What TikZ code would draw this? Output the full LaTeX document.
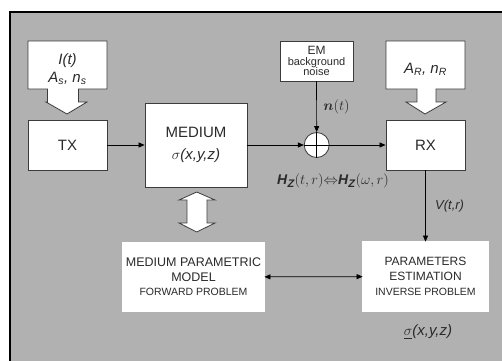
\documentclass[tikz,border=0pt]{standalone}
\usepackage{fontspec}
\setmainfont{Liberation Sans}
\usepackage{amsmath, amssymb}
\usetikzlibrary{arrows.meta}
\definecolor{PanelGray}{HTML}{B1B1B1}
\definecolor{EdgeGray}{HTML}{3C3C3C}
\definecolor{InkGray}{HTML}{2A2A2A}
\newcommand{\fs}[1]{\fontsize{#1}{#1}\selectfont}
\newcommand{\fsl}[2]{\fontsize{#1}{#2}\selectfont}
\newcommand{\HZ}{\textbf{\textit{H}}\raisebox{-0.35ex}{\fs{11}\textbf{\textit{Z}}}}

\begin{document}
\begin{tikzpicture}[x=1pt, y=-1pt, font=\fs{15}, text=InkGray,
    blk/.style={draw=EdgeGray, fill=white, line width=0.8pt, align=center, inner sep=0pt},
    dbl/.style={blk, double=white, double distance=1.2pt},
    arr/.style={-{Triangle[length=6pt, width=5pt]}, line width=0.7pt},
    arrboth/.style={{Triangle[length=6pt, width=5pt]}-{Triangle[length=6pt, width=5pt]}, line width=0.7pt}]
                \useasboundingbox (0,0) rectangle (502,360);
                \draw[line width=1.5pt, fill=PanelGray] (10,12) rectangle (520,380);

                % input boxes with block arrows
                \draw[blk] (28,41) -- (107,41) -- (107,89) -- (78.5,89) -- (78.5,102) -- (87,102) -- (67,114)
                    -- (46,102) -- (47.5,102) -- (47.5,89) -- (28,89) -- cycle;
                \node[align=center, font=\fsl{15}{18}] (src) at (67.5,69)
                    {\textit{I(t)}\\\textit{A}\textsubscript{\textit{s}}\textit{, n}\textsubscript{\textit{s}}};
                \draw[blk] (386,41) -- (465,41) -- (465,89) -- (436,89) -- (436,102) -- (446,102) -- (425,114)
                    -- (406,102) -- (417,102) -- (417,89) -- (386,89) -- cycle;
                \node (rcv) at (425.5,69) {\textit{A}\textsubscript{\textit{R}}\textit{, n}\textsubscript{\textit{R}}};

                \node[blk, minimum width=79pt, minimum height=50pt] (tx) at (67.5,145) {TX};
                \node[blk, minimum width=102pt, minimum height=84pt, font=\fsl{15}{22}] (medium) at (196,145)
                    {MEDIUM\\$\sigma$\textit{(x,y,z)}};
                \node[blk, circle, minimum size=25pt] (sum) at (316.7,145) {};
                \draw[line width=0.7pt] (sum.north) -- (sum.south) (sum.west) -- (sum.east);
                \node[blk, minimum width=73pt, minimum height=40pt, font=\fsl{11}{10.5}] (em) at (316.5,61)
                    {{\fs{12}EM}\\background\\noise};
                \node[blk, minimum width=79pt, minimum height=50pt] (rx) at (425.5,145) {RX};

                \node[dbl, minimum width=141pt, minimum height=68pt, font=\fsl{12.5}{14.5}] (model) at (193.5,277)
                    {MEDIUM PARAMETRIC\\MODEL\\{\fs{10.5}FORWARD PROBLEM}};
                \node[dbl, minimum width=125pt, minimum height=69pt, font=\fsl{12}{15}] (estim) at (425.5,276.5)
                    {PARAMETERS\\ESTIMATION\\{\fs{10.5}INVERSE PROBLEM}};

                \draw[arr] (tx) -- (medium);
                \draw[arr] (medium) -- (sum);
                \draw[arr] (sum) -- (rx);
                \draw[arr] (em) -- node[right, xshift=3pt, font=\fs{14}] {$\boldsymbol{n}(t)$} (sum);
                \draw[arr] (rx) -- node[right, xshift=6pt, font=\fs{13}] {\textit{V(t,r)}} (estim);
                \draw[arrboth] (model) -- (estim);

                % medium <-> model block arrow
                \draw[blk] (196.7,192) -- (215,200) -- (207,200) -- (207,223) -- (215,223) -- (196.7,232)
                    -- (179,223) -- (187,223) -- (187,200) -- (179,200) -- cycle;

                \node[font=\fs{14}] (hz) at (333,181) {\HZ$(t,r){\Leftrightarrow}$\HZ$(\omega,r)$};
                \node[font=\fs{15}] (sigest) at (428,332) {$\underline{\sigma}$\textit{(x,y,z)}};
\end{tikzpicture}
\end{document}
